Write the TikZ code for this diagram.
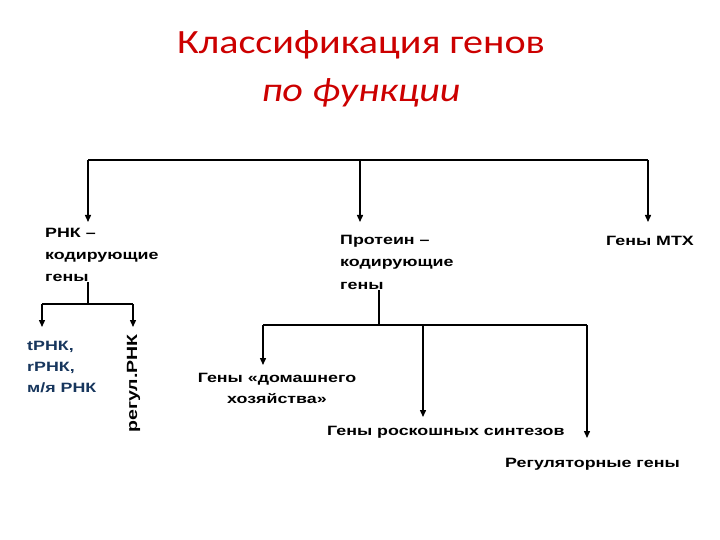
\documentclass[tikz,border=0pt]{standalone}
\usepackage{fontspec}
\setmainfont[FakeStretch=1.32]{Liberation Sans}
\newfontfamily\titlefont[FakeStretch=1.18]{Carlito}
\definecolor{titlered}{RGB}{204,0,0}
\definecolor{rnablue}{RGB}{23,54,93}
\usetikzlibrary{arrows.meta}

\begin{document}
\begin{tikzpicture}[x=1pt,y=-1pt,
  lbl/.style={font=\bfseries\fontsize{13.5}{22}\selectfont,inner sep=0pt,align=left},
  ln/.style={line width=1.4pt},
  arr/.style={line width=1.4pt,-{Triangle[width=6pt,length=7pt]}}]
  \useasboundingbox (0,0) rectangle (720,540);
  % title
  \node[font=\titlefont\fontsize{34}{40}\selectfont,text=titlered] (t1) at (361,45) {Классификация генов};
  \node[font=\titlefont\itshape\fontsize{34}{40}\selectfont,text=titlered] (t2) at (361,93) {по функции};
  % first level
  \node[lbl,anchor=north west] (rna) at (45,228) {РНК --\\кодирующие\\гены};
  \node[lbl,anchor=north west,font=\bfseries\fontsize{13.5}{22.5}\selectfont] (prot) at (340,235) {Протеин --\\кодирующие\\гены};
  \node[lbl,anchor=north west] (mtx) at (606,236) {Гены МТХ};
  \coordinate (busL) at (88,160);
  \coordinate (busM) at (360,160);
  \coordinate (busR) at (648,160);
  \draw[ln] (busL) -- (busR);
  \draw[arr,shorten >=6pt] (busL) -- (busL |- rna.north);
  \draw[arr,shorten >=13pt] (busM) -- (busM |- prot.north);
  \draw[arr,shorten >=14pt] (busR) -- (busR |- mtx.north);
  % RNA genes
  \node[lbl,anchor=north west,text=rnablue,font=\bfseries\fontsize{13.5}{21}\selectfont] (trna) at (27,341) {tРНК,\\rРНК,\\м/я РНК};
  \node[lbl,rotate=90,anchor=east,font=\bfseries\fontsize{14.8}{18}\selectfont] (reg) at (133.5,334) {регул.РНК};
  \coordinate (rnaJ) at (88,304);
  \coordinate (rnaL) at (42,304);
  \coordinate (rnaR) at (133,304);
  \draw[ln] (rna.south -| rnaJ) -- (rnaJ);
  \draw[ln] (rnaL) -- (rnaR);
  \draw[arr,shorten >=14pt] (rnaL) -- (rnaL |- trna.north);
  \draw[arr,shorten >=7pt] (rnaR) -- (rnaR |- reg.east);
  % protein genes
  \node[lbl,align=center,anchor=north,font=\bfseries\fontsize{13.5}{21.5}\selectfont] (hk) at (277,373) {Гены «домашнего\\хозяйства»};
  \node[lbl,anchor=north west] (lux) at (327,426) {Гены роскошных синтезов};
  \node[lbl,anchor=north west] (regg) at (505,458) {Регуляторные гены};
  \coordinate (protJ) at (379,325);
  \coordinate (protL) at (263,325);
  \coordinate (protM) at (423,325);
  \coordinate (protR) at (587,325);
  \draw[ln] (prot.south -| protJ) -- (protJ);
  \draw[ln] (protL) -- (protR);
  \draw[arr,shorten >=8pt] (protL) -- (protL |- hk.north);
  \draw[arr,shorten >=9pt] (protM) -- (protM |- lux.north);
  \draw[arr,shorten >=20pt] (protR) -- (protR |- regg.north);
\end{tikzpicture}
\end{document}
